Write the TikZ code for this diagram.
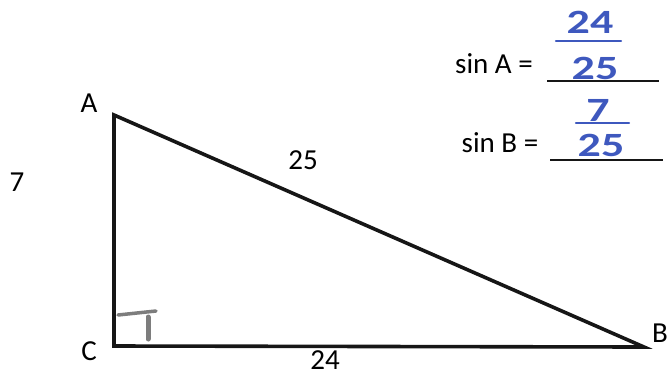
\documentclass[tikz,border=0pt]{standalone}
\usepackage{fontspec}
\setmainfont{Carlito}
\definecolor{inkblue}{RGB}{62,88,190}
\definecolor{pencilgray}{RGB}{125,125,125}
\definecolor{edgeblack}{RGB}{22,22,22}
\newcommand{\handwide}[1]{\scalebox{1.35}[1]{#1}}

\begin{document}
\begin{tikzpicture}[x=1pt, y=-1pt,
    vlabel/.style={font=\fontsize{29}{32}\selectfont, inner sep=0pt},
    hand/.style={color=inkblue, font=\fontsize{34}{36}\selectfont\bfseries, inner sep=0pt},
    blank/.style={color=edgeblack, line width=1.6pt},
    bar/.style={color=inkblue, line width=2.2pt, line cap=round}]

    \useasboundingbox (0,0) rectangle (669,376);

    % 1. Right Triangle
    \coordinate (A) at (114,115);
    \coordinate (C) at (114,346);
    \coordinate (B) at (644,347);
    \draw[color=edgeblack, line width=3.6pt] (A) -- (B) -- (C) -- cycle;

    % handwritten right-angle mark
    \draw[color=pencilgray, line width=3.5pt, line cap=round] (118,315) -- (156,311);
    \draw[color=pencilgray, line width=5pt, line cap=round] (148,317) -- (148,339);

    % 2. Vertex and Side Labels
    \node[vlabel] (labA) at (89,103) {A};
    \node[vlabel] (labB) at (660,333) {B};
    \node[vlabel] (labC) at (89,351) {C};
    \node[vlabel] (side7) at (17,182) {7};
    \node[vlabel] (side25) at (303,160) {25};
    \node[vlabel] (side24) at (325,360) {24};

    % 3. Answer Blanks
    \node[vlabel] (sinA) at (494,64) {sin A =};
    \coordinate (blankA1) at (547,81);
    \coordinate (blankA2) at (659,81);
    \draw[blank] (blankA1) -- (blankA2);

    \node[vlabel] (sinB) at (500,143) {sin B =};
    \coordinate (blankB1) at (550,160);
    \coordinate (blankB2) at (663,160);
    \draw[blank] (blankB1) -- (blankB2);

    % 4. Handwritten Fractions
    \node[hand] (numA) at (590,22) {\handwide{24}};
    \draw[bar] (556,41) -- (621,41);
    \node[hand] (denA) at (595,68) {\handwide{25}};

    \node[hand] (numB) at (598,110) {\handwide{7}};
    \draw[bar] (576,123) -- (629,123);
    \node[hand] (denB) at (601,145) {\handwide{25}};

\end{tikzpicture}
\end{document}
